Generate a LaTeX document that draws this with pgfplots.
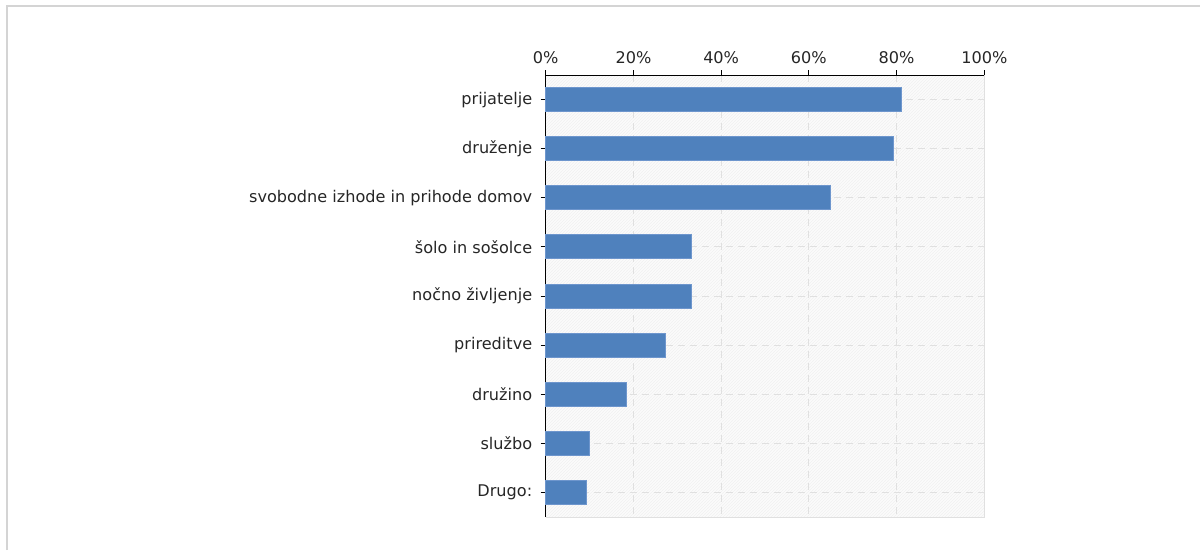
\documentclass[border=0pt]{standalone}
\usepackage{pgfplots}
\pgfplotsset{compat=1.18}
\usepackage{fontspec}
\setmainfont{DejaVu Sans}
\usetikzlibrary{patterns}
\definecolor{barblue}{RGB}{79,129,189}
\definecolor{baredge}{RGB}{110,150,205}
\definecolor{gridgray}{RGB}{224,224,224}
\definecolor{framegray}{RGB}{212,212,212}
\definecolor{bggray}{RGB}{251,251,251}
\definecolor{hatch}{RGB}{241,241,241}
\pgfplotstableread{
idx val
0 81.0
1 79.3
2 65.0
3 33.3
4 33.3
5 27.3
6 18.4
7 9.9
8 9.2
}\datatable
\begin{document}
\begin{tikzpicture}[x=1pt,y=1pt]
\useasboundingbox (0,0) rectangle (1200,550);
\draw[framegray, line width=1.6pt] (7,0) -- (7,544) -- (1200,544);
\begin{axis}[
  at={(545.7pt,33pt)}, anchor=south west,
  scale only axis, width=438.6pt, height=442pt,
  xbar, bar width=24pt,
  xmin=0, xmax=100,
  ymin=-0.5, ymax=8.5, y dir=reverse,
  axis x line*=top, axis y line*=left,
  axis line style={black, line width=1pt},
  xtick={0,20,40,60,80,100},
  xticklabels={0\%,20\%,40\%,60\%,80\%,100\%},
  ytick={0,1,2,3,4,5,6,7,8},
  yticklabels={prijatelje,druženje,svobodne izhode in prihode domov,šolo in sošolce,nočno življenje,prireditve,družino,službo,Drugo:},
  tick align=outside, major tick length=5pt,
  tick style={black, line width=0.8pt},
  ticklabel style={font=\fontsize{16.1}{18}\selectfont, text=black!85},
  xticklabel style={yshift=2.5pt},
  yticklabel style={xshift=-5pt},
  grid=major,
  grid style={gridgray, dash pattern=on 7pt off 5pt, line width=0.9pt},
  axis background/.style={fill=bggray, postaction={pattern=north east lines, pattern color=hatch}},
  clip=false,
]
\draw[gridgray, line width=1pt] (rel axis cs:0,0) -- (rel axis cs:1,0) -- (rel axis cs:1,1);
\addplot[fill=barblue, draw=baredge, line width=0.8pt] table[x=val, y=idx] {\datatable};
\end{axis}
\end{tikzpicture}
\end{document}
